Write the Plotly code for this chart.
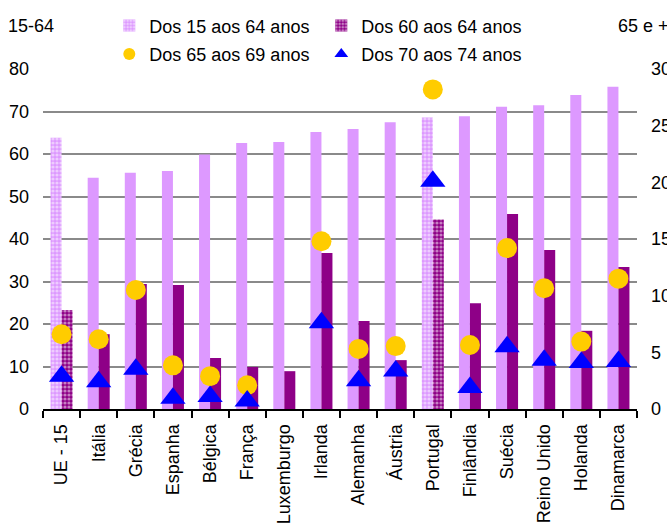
import plotly.graph_objects as go

countries = ["UE - 15", "Itália", "Grécia", "Espanha", "Bélgica", "França",
             "Luxemburgo", "Irlanda", "Alemanha", "Áustria", "Portugal",
             "Finlândia", "Suécia", "Reino Unido", "Holanda", "Dinamarca"]

# Employment rates, left axis (15-64)
rate_15_64 = [63.8, 54.4, 55.6, 56.0, 59.9, 62.6, 62.8, 65.2, 65.9, 67.5,
              68.6, 68.9, 71.1, 71.5, 73.9, 75.8]
rate_60_64 = [23.3, 17.6, 29.4, 29.2, 12.0, 9.9, 8.9, 36.7, 20.7, 11.5,
              44.6, 24.9, 45.9, 37.4, 18.4, 33.4]

# Employment rates, right axis (65 e +)
rate_65_69 = [6.6, 6.15, 10.5, 3.85, 2.9, 2.1, None, 14.8, 5.3, 5.55,
              28.2, 5.65, 14.2, 10.65, 5.95, 11.5]
rate_70_74 = [2.9, 2.4, 3.5, 0.95, 1.1, 0.7, None, 7.6, 2.5, 3.35,
              20.1, 1.9, 5.5, 4.3, 4.1, 4.2]

highlight = ["UE - 15", "Portugal"]
patterns = ["." if c in highlight else "" for c in countries]

LIGHT = "#DD99FF"
DARK = "#8E0087"
FONT = "Liberation Sans, Arial, sans-serif"

fig = go.Figure()
fig.add_trace(go.Bar(
    x=countries, y=rate_15_64, name="Dos 15 aos 64 anos",
    marker=dict(color=LIGHT, line=dict(width=0),
                pattern=dict(shape=patterns, fgcolor="white", size=4,
                             solidity=0.5)),
    yaxis="y", legend="legend",
))
fig.add_trace(go.Bar(
    x=countries, y=rate_60_64, name="Dos 60 aos 64 anos",
    marker=dict(color=DARK, line=dict(width=0),
                pattern=dict(shape=patterns, fgcolor="white", size=4,
                             solidity=0.5)),
    yaxis="y", legend="legend",
))
fig.add_trace(go.Scatter(
    x=countries, y=rate_65_69, name="Dos 65 aos 69 anos", mode="markers",
    marker=dict(symbol="circle", size=20, color="#FFCC00"),
    yaxis="y2", legend="legend2",
))
fig.add_trace(go.Scatter(
    x=countries, y=rate_70_74, name="Dos 70 aos 74 anos", mode="markers",
    marker=dict(symbol="triangle-up", size=22, color="#0000FF"),
    yaxis="y2", legend="legend2",
))

legend_common = dict(
    orientation="h", xanchor="left", yanchor="middle",
    bgcolor="rgba(255,255,255,0.55)", borderwidth=0,
    entrywidth=167, entrywidthmode="pixels",
    itemsizing="constant", traceorder="normal",
    font=dict(family=FONT, size=18, color="black"),
)

fig.update_layout(
    width=667, height=525,
    margin=dict(l=43, r=30, t=69, b=116, autoexpand=False),
    paper_bgcolor="white", plot_bgcolor="white",
    font=dict(family=FONT, size=18, color="black"),
    barmode="group", bargap=0.407, bargroupgap=0,
    showlegend=True,
    legend=dict(x=0.1116, y=1.127, **legend_common),
    legend2=dict(x=0.1116, y=1.043, **legend_common),
    xaxis=dict(
        type="category", range=[-0.5, len(countries) - 0.5],
        tickangle=-90, tickson="boundaries",
        ticks="outside", ticklen=7, tickwidth=2, tickcolor="black",
        showline=True, linecolor="black", linewidth=2,
        showgrid=False, ticklabelstandoff=6, automargin=False,
        tickfont=dict(family=FONT, size=18, color="black"),
    ),
    yaxis=dict(
        range=[0, 80], dtick=10, showgrid=True, gridcolor="#8a8a8a",
        gridwidth=2, zeroline=False, showline=False, ticks="",
        ticklabelstandoff=13, automargin=False,
        tickfont=dict(family=FONT, size=18, color="black"),
    ),
    yaxis2=dict(
        range=[0, 30], dtick=5, overlaying="y", side="right",
        showgrid=False, zeroline=False, showline=False, ticks="",
        ticklabelstandoff=13, automargin=False,
        tickfont=dict(family=FONT, size=18, color="black"),
    ),
    annotations=[
        dict(text="15-64", xref="paper", yref="paper", x=-0.063, y=1.127,
             xanchor="left", yanchor="middle", showarrow=False,
             font=dict(family=FONT, size=18, color="black")),
        dict(text="65 e +", xref="paper", yref="paper", x=0.965, y=1.127,
             xanchor="left", yanchor="middle", showarrow=False,
             font=dict(family=FONT, size=18, color="black")),
    ],
)

fig.write_html("out.html")
